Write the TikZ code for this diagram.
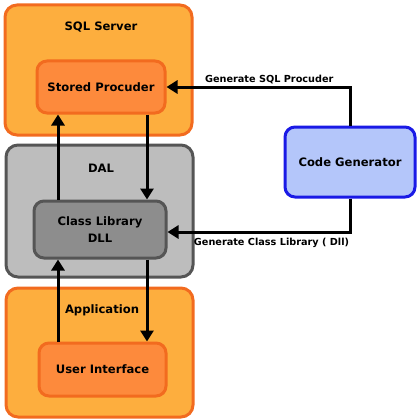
\documentclass[tikz,border=0pt]{standalone}
\usepackage{fontspec}
\setmainfont{DejaVu Sans}
\usepackage{tikz}
\usetikzlibrary{positioning, calc, arrows.meta}

\definecolor{outerorange}{HTML}{FDAE3E}
\definecolor{innerorange}{HTML}{FD8A3C}
\definecolor{orangeline}{HTML}{F26B1F}
\definecolor{outergray}{HTML}{BDBDBD}
\definecolor{innergray}{HTML}{8D8D8D}
\definecolor{grayline}{HTML}{555555}
\definecolor{genfill}{HTML}{B4C6FA}
\definecolor{genline}{HTML}{1A1AE6}

\begin{document}
\begin{tikzpicture}[
            x=1pt, y=-1pt,
            layer/.style = {rectangle, rounded corners=12pt, line width=3pt, inner sep=0pt},
            part/.style = {rectangle, rounded corners=10pt, line width=3pt, inner sep=0pt, align=center,
                    font=\bfseries\fontsize{11.6}{17.5}\selectfont},
            title/.style = {font=\bfseries\fontsize{11.6}{14}\selectfont},
            msg/.style = {font=\bfseries\fontsize{9.7}{11}\selectfont},
            arr/.style = {line width=3pt, -{Triangle[length=11pt,width=13pt]}}
        ]
        \useasboundingbox (0,0) rectangle (420,420);

        % layers
        \node (sqlserver) [layer, draw=orangeline, fill=outerorange, minimum width=187pt, minimum height=130pt] at (98.5,70) {};
        \node (dal)       [layer, draw=grayline, fill=outergray, minimum width=187pt, minimum height=132pt] at (99.5,211) {};
        \node (app)       [layer, draw=orangeline, fill=outerorange, minimum width=187pt, minimum height=129pt] at (99.5,352.5) {};

        \node (sqltitle) [title] at (101,27)  {SQL Server};
        \node (daltitle) [title] at (101,168) {DAL};
        \node (apptitle) [title] at (102,310) {Application};

        % parts
        \node (storedproc) [part, draw=orangeline, fill=innerorange, minimum width=128pt, minimum height=52pt] at (101,87) {Stored Procuder};
        \node (classlib)   [part, draw=grayline, fill=innergray, minimum width=132pt, minimum height=57pt] at (100,229.5) {Class Library\\DLL};
        \node (ui)         [part, draw=orangeline, fill=innerorange, minimum width=127pt, minimum height=53pt] at (102.5,369.5) {User Interface};
        \node (codegen)    [part, draw=genline, fill=genfill, minimum width=130pt, minimum height=70pt] at (350,162) {Code Generator};

        \coordinate (lx) at (58,0);
        \coordinate (rx) at (147,0);

        \draw[arr] (lx |- classlib.north)  -- (lx |- storedproc.south);
        \draw[arr] (rx |- storedproc.south) -- (rx |- classlib.north);
        \draw[arr] (lx |- ui.north)        -- (lx |- classlib.south);
        \draw[arr] (rx |- classlib.south)  -- (rx |- ui.north);

        \draw[arr] (codegen.north) |- (storedproc.east)
            node [msg, pos=0.72, above=-2pt] {Generate SQL Procuder};
        \draw[arr] (codegen.south) |- ($(classlib.east)+(0,2.5)$)
            node [msg, pos=0.715, below=1pt] {Generate Class Library ( Dll)};
    \end{tikzpicture}
\end{document}
